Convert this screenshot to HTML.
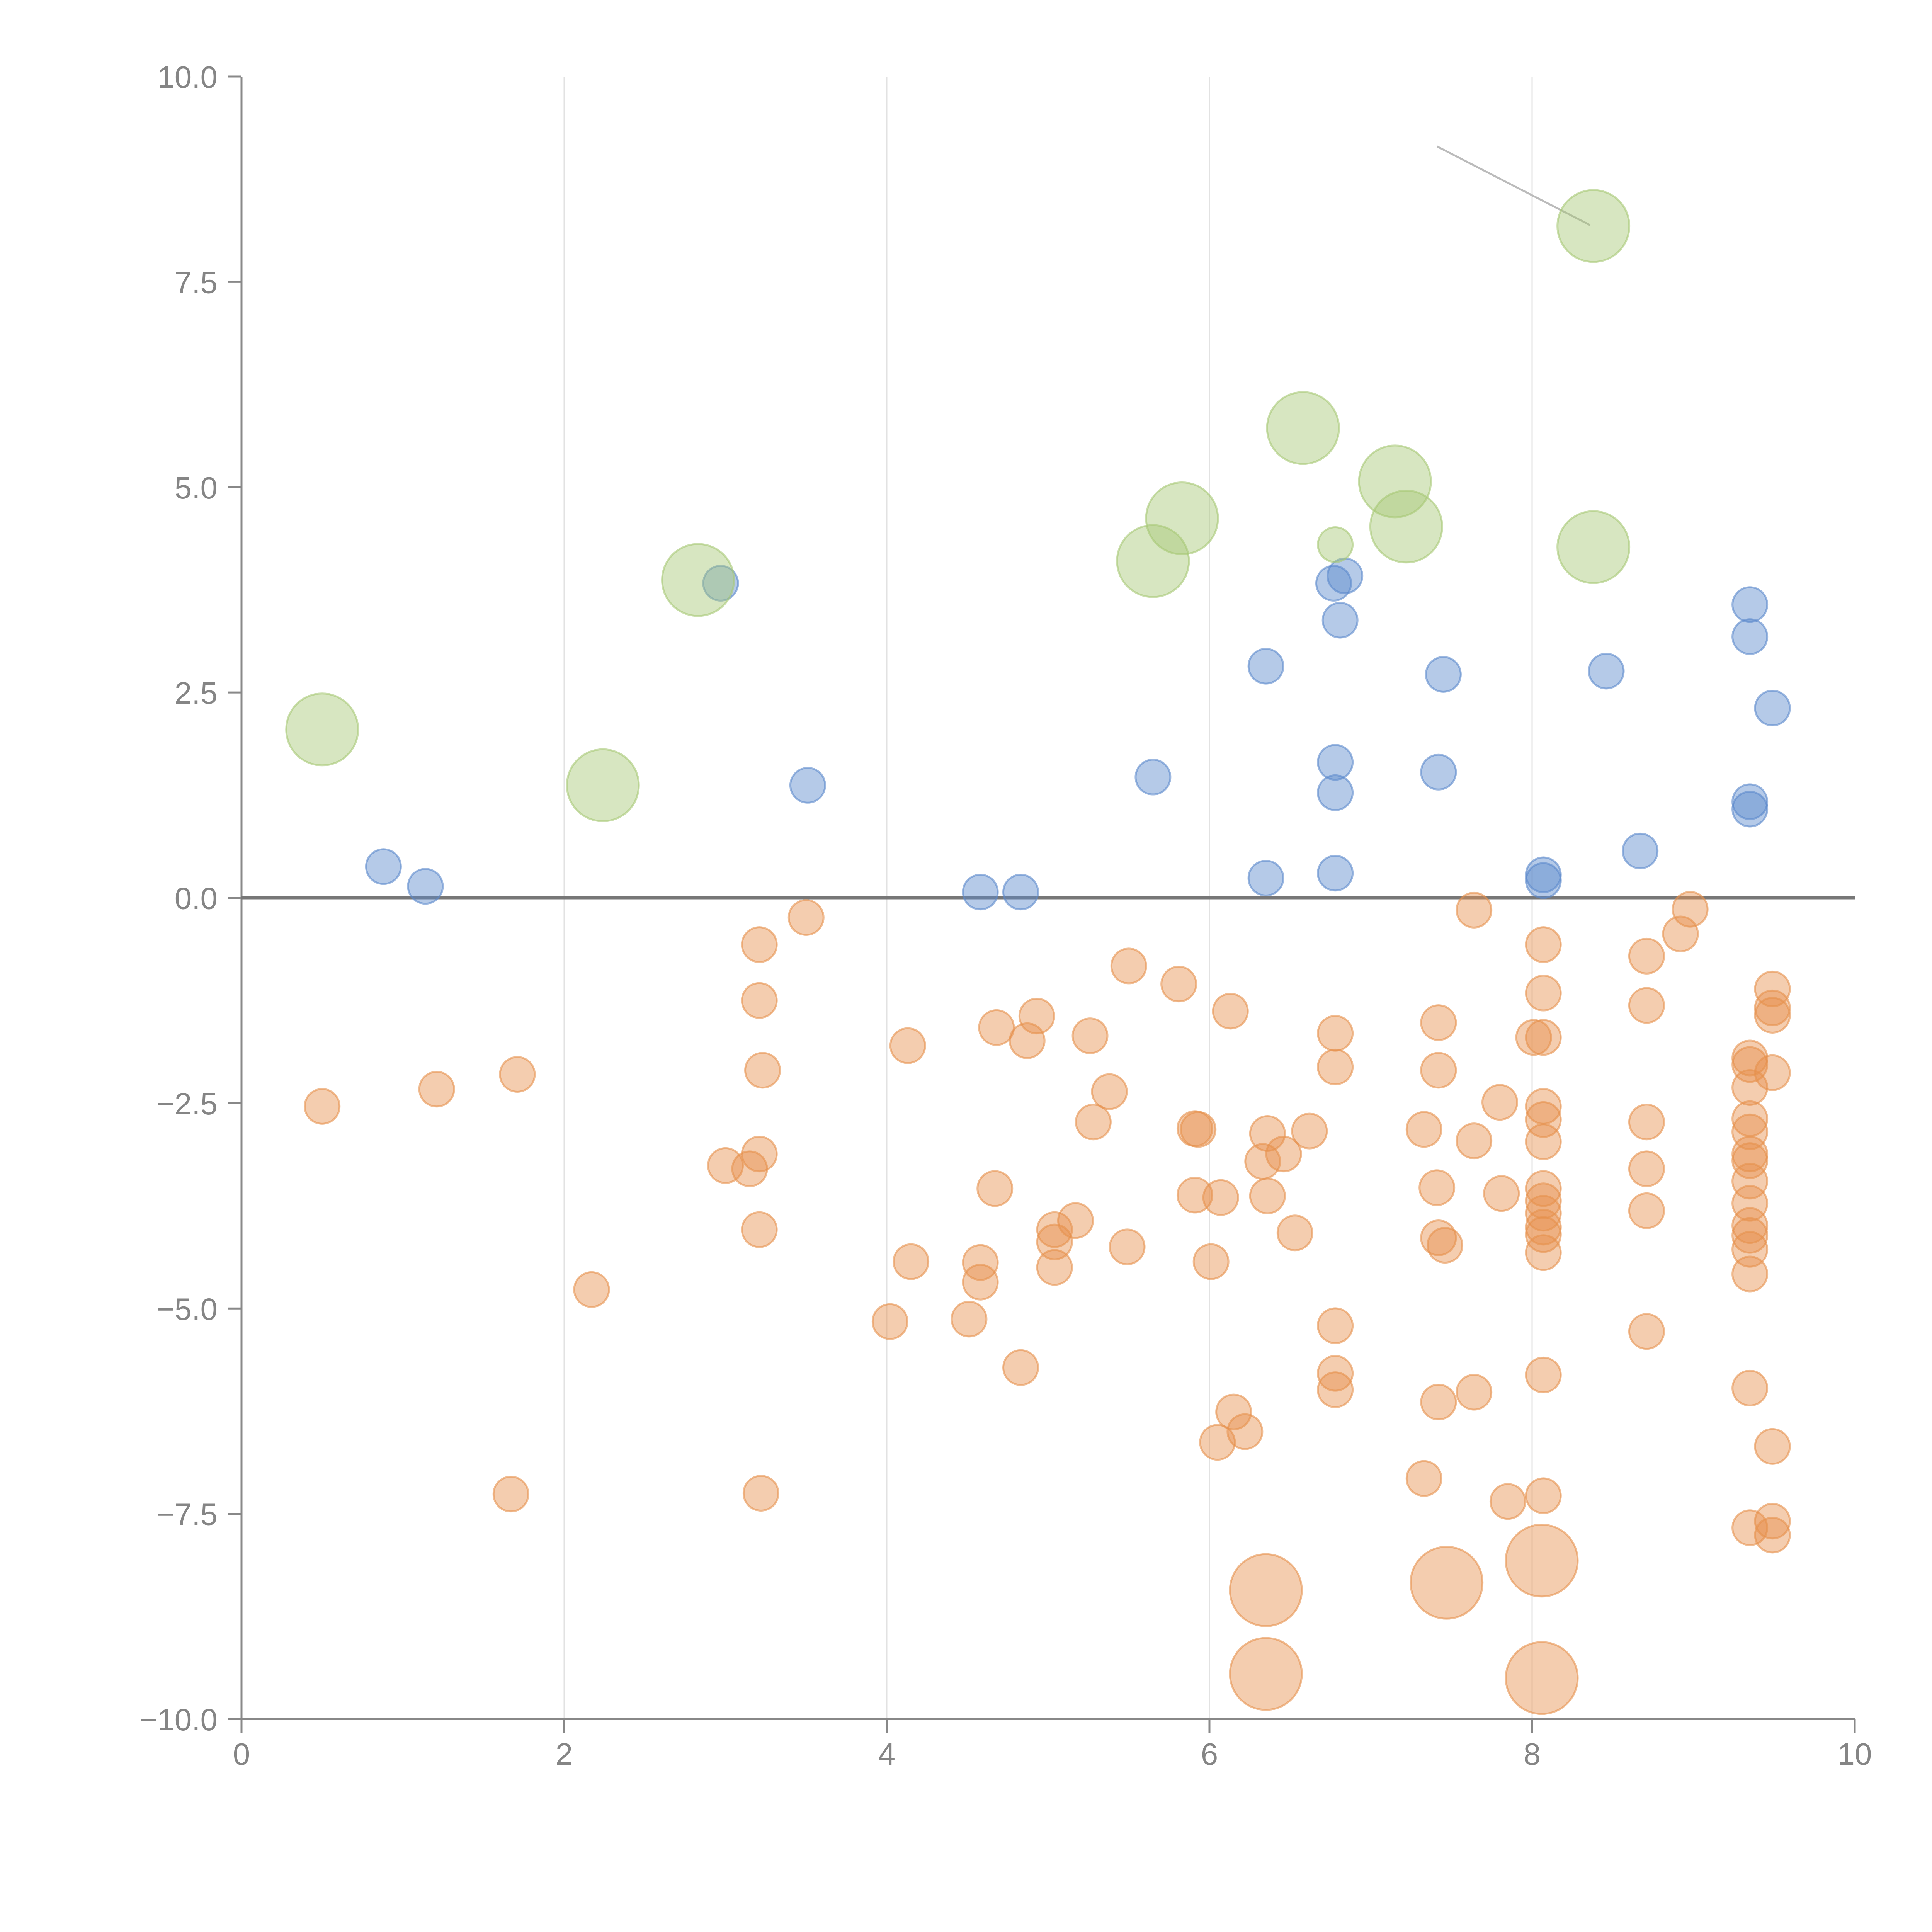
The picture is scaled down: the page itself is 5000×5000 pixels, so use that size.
<!DOCTYPE html>
<html><head><meta charset="utf-8"><style>html,body{margin:0;padding:0;background:#fff}svg{display:block}</style></head>
<body>
<svg id="chart" width="5000" height="5000" viewBox="0 0 5000 5000" xmlns="http://www.w3.org/2000/svg" font-family="Liberation Sans, sans-serif">
<rect width="5000" height="5000" fill="#fff"/>
<g id="grid"></g>
<g id="axes"></g>
<g id="marks"></g>
</svg>
<script>
const xTicks = [0, 2, 4, 6, 8, 10];
const yTicks = [-10, -7.5, -5, -2.5, 0, 2.5, 5, 7.5, 10];
const yTickLabels = ["\u221210.0", "\u22127.5", "\u22125.0", "\u22122.5", "0.0", "2.5", "5.0", "7.5", "10.0"];

const greenX = [0.5, 2.24, 2.83, 5.65, 5.83, 6.58, 7.15, 7.22, 8.38, 8.38, 6.78];
const greenY = [2.05, 1.37, 3.87, 4.1, 4.62, 5.72, 5.07, 4.52, 8.18, 4.27, 4.3];
const greenBig = [1, 1, 1, 1, 1, 1, 1, 1, 1, 1, 0];

const blueX = [0.88, 1.14, 2.97, 3.51, 4.58, 4.83, 5.65, 6.35, 6.35, 6.77, 6.84, 6.81, 6.78, 6.78, 6.78, 7.45, 7.42, 8.07, 8.07, 8.46, 8.67, 9.35, 9.35, 9.49, 9.35, 9.35];
const blueY = [0.38, 0.14, 3.83, 1.37, 0.07, 0.07, 1.47, 2.82, 0.24, 3.83, 3.92, 3.38, 1.65, 1.28, 0.3, 2.72, 1.53, 0.28, 0.21, 2.76, 0.57, 3.57, 3.18, 2.31, 1.17, 1.08];

const orangeX = [0.5, 1.21, 1.71, 1.67, 2.17, 3.0, 3.15, 3.21, 3.21, 3.23, 3.21, 3.21, 3.22, 3.5, 4.13, 4.15, 4.02, 4.51, 4.68, 4.67, 4.58, 4.58, 4.83, 4.93, 4.87, 5.04, 5.04, 5.04, 5.17, 5.26, 5.38, 5.28, 5.5, 5.49, 5.81, 5.91, 5.93, 5.91, 6.07, 6.01, 6.13, 6.15, 6.22, 6.05, 6.36, 6.33, 6.36, 6.46, 6.62, 6.53, 6.78, 6.78, 6.78, 6.78, 6.78, 7.64, 7.42, 7.42, 7.33, 7.41, 7.42, 7.46, 7.64, 7.8, 7.81, 7.42, 7.64, 7.33, 7.85, 8.07, 8.07, 8.01, 8.07, 8.07, 8.07, 8.07, 8.07, 8.07, 8.07, 8.07, 8.07, 8.07, 8.07, 8.07, 8.71, 8.71, 8.71, 8.71, 8.71, 8.71, 8.98, 8.92, 9.49, 9.49, 9.49, 9.35, 9.35, 9.35, 9.49, 9.35, 9.35, 9.35, 9.35, 9.35, 9.35, 9.35, 9.35, 9.35, 9.35, 9.35, 9.49, 9.35, 9.49, 9.49, 6.35, 6.35, 7.47, 8.06, 8.06];
const orangeY = [-2.54, -2.33, -2.15, -7.26, -4.77, -3.26, -3.3, -0.57, -1.25, -2.1, -3.12, -4.04, -7.25, -0.24, -1.8, -4.43, -5.16, -5.13, -1.58, -3.54, -4.44, -4.68, -5.72, -1.44, -1.74, -4.04, -4.19, -4.5, -3.93, -1.68, -2.36, -2.73, -0.83, -4.25, -1.05, -2.81, -2.82, -3.62, -3.65, -4.43, -1.38, -6.26, -6.5, -6.63, -2.87, -3.21, -3.63, -3.12, -2.84, -4.08, -1.65, -2.06, -5.21, -5.79, -5.99, -0.15, -1.52, -2.1, -2.82, -3.53, -4.14, -4.23, -2.96, -2.49, -3.6, -6.14, -6.02, -7.07, -7.35, -0.57, -1.16, -1.7, -1.7, -2.54, -2.7, -2.97, -3.54, -3.69, -3.84, -4.01, -4.1, -4.32, -5.81, -7.28, -0.71, -1.31, -2.73, -3.3, -3.81, -5.28, -0.14, -0.44, -1.11, -1.34, -1.43, -1.95, -2.03, -2.31, -2.13, -2.69, -2.85, -3.12, -3.2, -3.45, -3.72, -3.99, -4.11, -4.28, -4.58, -5.97, -6.68, -7.67, -7.59, -7.76, -8.43, -9.45, -8.34, -8.07, -9.5];
const orangeBig = orangeX.map((v, i) => i >= orangeX.length - 5 ? 1 : 0);

const leaderX = [7.41, 8.36];
const leaderY = [9.15, 8.19];

const X0 = 625, X1 = 4800, Y0 = 4449, Y1 = 198;
function sx(v) { return X0 + (v - 0) / 10 * (X1 - X0); }
function sy(v) { return Y0 - (v + 10) / 20 * (Y0 - Y1); }
const NS = "http://www.w3.org/2000/svg";
function mk(tag, attrs, parent) {
  const e = document.createElementNS(NS, tag);
  for (const k in attrs) e.setAttribute(k, attrs[k]);
  parent.appendChild(e);
  return e;
}
const grid = document.getElementById('grid');
const axes = document.getElementById('axes');
const marks = document.getElementById('marks');

xTicks.forEach(t => {
  if (t > 0 && t < 10) {
    const g = mk('line', {x1: sx(t), x2: sx(t), y1: sy(10), y2: sy(-10), stroke: '#e2e2e2', 'stroke-width': 3}, grid);
    
    
  }
  const tk = mk('line', {x1: sx(t), x2: sx(t), y1: Y0, y2: Y0 + 35, stroke: '#888', 'stroke-width': 5}, axes);
  
  
  const tl = mk('text', {x: sx(t), y: Y0 + 118, 'text-anchor': 'middle', 'font-size': 80, fill: '#858585'}, axes);
  tl.textContent = String(t);
  
  
});
yTicks.forEach((t, i) => {
  const tk = mk('line', {x1: X0 - 35, x2: X0, y1: sy(t), y2: sy(t), stroke: '#888', 'stroke-width': 5}, axes);
  
  
  const tl = mk('text', {x: X0 - 62, y: sy(t) + 29, 'text-anchor': 'end', 'font-size': 80, fill: '#858585'}, axes);
  tl.textContent = yTickLabels[i];
  
  
});
const ya = mk('line', {x1: X0, x2: X0, y1: Y1, y2: Y0 + 2, stroke: '#888', 'stroke-width': 5}, axes);


const xa = mk('line', {x1: X0 - 2, x2: X1 + 2, y1: Y0, y2: Y0, stroke: '#888', 'stroke-width': 5}, axes);


const zl = mk('line', {x1: X0, x2: X1, y1: sy(0), y2: sy(0), stroke: '#777', 'stroke-width': 8}, axes);



const ll = mk('line', {x1: sx(leaderX[0]), y1: sy(leaderY[0]), x2: sx(leaderX[1]), y2: sy(leaderY[1]), stroke: '#bbb', 'stroke-width': 5}, marks);



function drawSeries(xs, ys, big, color, name) {
  xs.forEach((x, i) => {
    const c = mk('circle', {cx: sx(x), cy: sy(ys[i]), r: big[i] ? 93 : 45, fill: color, 'fill-opacity': 0.45, stroke: color, 'stroke-opacity': 0.6, 'stroke-width': 5}, marks);
    
    
  });
}
drawSeries(orangeX, orangeY, orangeBig, '#e6914d', 'orange-bubble');
drawSeries(blueX, blueY, blueX.map(() => 0), '#5b89cc', 'blue-bubble');
drawSeries(greenX, greenY, greenBig, '#a6c875', 'green-bubble');
</script>
</body></html>
